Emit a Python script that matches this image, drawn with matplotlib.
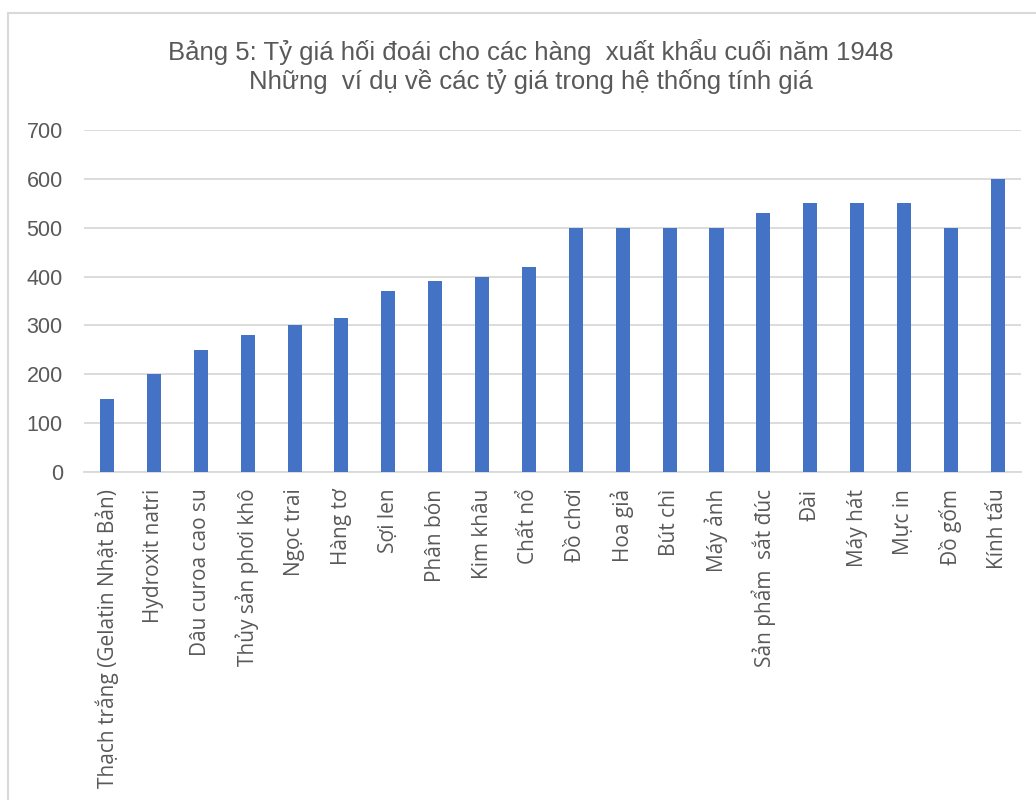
import matplotlib
matplotlib.use('Agg')
import matplotlib.pyplot as plt
from matplotlib.patches import Rectangle

# Dữ liệu
mat_hang = ['Thạch trắng (Gelatin Nhật Bản)', 'Hydroxit natri', 'Dâu curoa cao su',
            'Thủy sản phơi khô', 'Ngọc trai', 'Hàng tơ', 'Sợi len', 'Phân bón',
            'Kim khâu', 'Chất nổ', 'Đồ chơi', 'Hoa giả', 'Bút chì', 'Máy ảnh',
            'Sản phẩm  sắt đúc', 'Đài', 'Máy hát', 'Mực in', 'Đồ gốm', 'Kính tấu']
ty_gia = [150, 200, 250, 280, 300, 315, 370, 390, 400, 420,
          500, 500, 500, 500, 530, 550, 550, 550, 500, 600]
y_ticks = [0, 100, 200, 300, 400, 500, 600, 700]

tieu_de = 'Bảng 5: Tỷ giá hối đoái cho các hàng  xuất khẩu cuối năm 1948\nNhững  ví dụ về các tỷ giá trong hệ thống tính giá'

mau_chu = '#595959'
mau_cot = '#4472C4'

fig = plt.figure(figsize=(10.36, 8), dpi=100)
ax = fig.add_axes([0.0807, 0.41, 0.905, 0.4275])

x = range(len(mat_hang))
ax.bar(x, ty_gia, width=0.3, color=mau_cot, zorder=3)

ax.set_xlim(-0.5, len(mat_hang) - 0.5)
ax.set_ylim(0, 700)
ax.set_yticks(y_ticks)
ax.set_yticklabels([str(v) for v in y_ticks], fontsize=15.5, color=mau_chu,
                   family='Liberation Sans')
ax.set_xticks(list(x))
ax.set_xticklabels(mat_hang, rotation=90, fontsize=15, color=mau_chu,
                   family='Open Sans', va='top', ha='center')
ax.tick_params(axis='both', length=0)
ax.tick_params(axis='y', pad=15)
ax.tick_params(axis='x', pad=12)

ax.grid(axis='y', color='#D9D9D9', linewidth=1.3, zorder=0)
for s in ['top', 'right', 'left']:
    ax.spines[s].set_visible(False)
ax.spines['bottom'].set_color('#D9D9D9')
ax.spines['bottom'].set_linewidth(1.3)

fig.text(0.512, 0.917, tieu_de, ha='center', va='center', fontsize=18.5,
         color=mau_chu, family='Liberation Sans', linespacing=1.2)

# khung viền của biểu đồ
fig.patches.append(Rectangle((8 / 1036, -0.1), 1.2, 1 - 13 / 800 + 0.1,
                             transform=fig.transFigure, fill=False,
                             edgecolor='#D9D9D9', linewidth=1.5))

fig.savefig('out.png', dpi=100)
